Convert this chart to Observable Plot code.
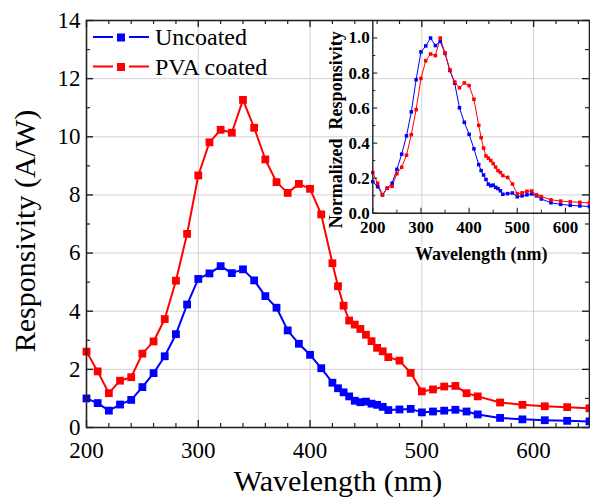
<!DOCTYPE html>
<html><head><meta charset="utf-8">
<script src="https://cdn.jsdelivr.net/npm/d3@7"></script>
<script src="https://cdn.jsdelivr.net/npm/@observablehq/plot@0.6"></script>
<style>
body{margin:0;background:#fff}
#wrap{position:relative;width:590px;height:500px}
#wrap svg{position:absolute;left:0;top:0}
#wrap svg, #wrap svg text{font-family:"Liberation Serif","Times New Roman",Times,"DejaVu Serif",serif !important}
</style>
</head><body><div id="wrap"></div>
<script>
const wavelength = [200,210,220,230,240,250,260,270,280,290,300,310,320,330,340,350,360,370,380,390,400,410,420,425,430,435,440,445,450,455,460,465,470,480,490,500,510,520,530,540,550,570,590,610,630,650];
const uncoated = [1.00,0.84,0.58,0.79,0.95,1.39,1.87,2.45,3.21,4.23,5.11,5.30,5.55,5.31,5.44,5.06,4.52,4.12,3.34,2.88,2.50,2.04,1.54,1.35,1.21,1.07,0.92,0.87,0.89,0.82,0.78,0.71,0.60,0.62,0.64,0.52,0.55,0.58,0.61,0.55,0.45,0.33,0.28,0.25,0.23,0.21];
const pvaCoated = [2.61,1.93,1.18,1.61,1.73,2.54,2.96,3.73,5.05,6.66,8.67,9.81,10.24,10.14,11.27,10.31,9.22,8.44,8.07,8.38,8.21,7.33,5.65,4.86,4.19,3.68,3.54,3.39,3.19,2.97,2.74,2.62,2.42,2.30,1.88,1.24,1.31,1.41,1.43,1.18,1.07,0.86,0.78,0.73,0.70,0.66];
const seriesNames = ["Uncoated", "PVA coated"];
const seriesColors = ["#0000ff", "#ff0000"];
const xMajorTicks = [200,300,400,500,600];
const xMinorTicks = [220,240,260,280,320,340,360,380,420,440,460,480,520,540,560,580,620,640];
const yMajorTicks = [0,2,4,6,8,10,12,14];
const yMinorTicks = [1,3,5,7,9,11,13];
const insetXTicks = [200,300,400,500,600];
const insetXMinor = [250,350,450,550];
const insetYTicks = [0,0.2,0.4,0.6,0.8,1.0];
const insetYMinor = [0.1,0.3,0.5,0.7,0.9];

const maxU = d3.max(uncoated), maxP = d3.max(pvaCoated);
const rows = wavelength.flatMap((w, i) => [
  {w, v: uncoated[i], n: uncoated[i] / maxU, s: seriesNames[0]},
  {w, v: pvaCoated[i], n: pvaCoated[i] / maxP, s: seriesNames[1]}
]);

const W = 590, H = 500;
const mL = 86, mR = 1, mT = 20, mB = 73;
const innerH = H - mT - mB, innerW = W - mL - mR;
const axisStroke = "#222";

const main = Plot.plot({
  width: W, height: H,
  marginLeft: mL, marginRight: mR, marginTop: mT, marginBottom: mB,
  style: {color: "black", background: "white"},
  x: {domain: [200, 650]},
  y: {domain: [0, 14]},
  color: {domain: seriesNames, range: seriesColors},
  marks: [
    Plot.gridX(xMajorTicks.slice(1), {stroke: "#d2d2d2", strokeOpacity: 1, strokeWidth: 1}),
    Plot.gridY(yMajorTicks.slice(1, -1), {stroke: "#d2d2d2", strokeOpacity: 1, strokeWidth: 1}),
    Plot.line(rows, {x: "w", y: "v", z: "s", stroke: "s", strokeWidth: 2}),
    Plot.dot(rows, {x: "w", y: "v", fill: "s", symbol: "square", r: 4.4, stroke: "none"}),
    Plot.frame({stroke: axisStroke, strokeWidth: 1.6}),
    Plot.tickX(xMajorTicks, {x: d => d, insetTop: innerH - 7, stroke: axisStroke, strokeWidth: 1.4}),
    Plot.tickX(xMajorTicks, {x: d => d, insetBottom: innerH - 7, stroke: axisStroke, strokeWidth: 1.4}),
    Plot.tickX(xMinorTicks, {x: d => d, insetTop: innerH - 4, stroke: axisStroke, strokeWidth: 1.2}),
    Plot.tickX(xMinorTicks, {x: d => d, insetBottom: innerH - 4, stroke: axisStroke, strokeWidth: 1.2}),
    Plot.tickY(yMajorTicks, {y: d => d, insetRight: innerW - 7, stroke: axisStroke, strokeWidth: 1.4}),
    Plot.tickY(yMajorTicks, {y: d => d, insetLeft: innerW - 7, stroke: axisStroke, strokeWidth: 1.4}),
    Plot.tickY(yMinorTicks, {y: d => d, insetRight: innerW - 4, stroke: axisStroke, strokeWidth: 1.2}),
    Plot.tickY(yMinorTicks, {y: d => d, insetLeft: innerW - 4, stroke: axisStroke, strokeWidth: 1.2}),
    Plot.axisX(xMajorTicks, {tickSize: 0, tickPadding: 14, fontSize: 23, label: null, tickFormat: d => String(d)}),
    Plot.axisY(yMajorTicks, {tickSize: 0, tickPadding: 6, fontSize: 23, label: null, tickFormat: d => String(d)}),
    Plot.text(["Wavelength (nm)"], {frameAnchor: "bottom", lineAnchor: "middle", textAnchor: "middle", dy: 54, fontSize: 30}),
    Plot.text(["Responsivity (A/W)"], {frameAnchor: "left", lineAnchor: "middle", textAnchor: "middle", dx: -61, dy: 7, rotate: -90, fontSize: 30})
  ]
});

// legend
const lg = d3.select(main).append("g").attr("font-size", 24).attr("text-anchor", "start");
seriesNames.forEach((name, i) => {
  const y = 37 + i * 29.5;
  const g = lg.append("g");
  g.append("line").attr("x1", 93).attr("x2", 113).attr("y1", y).attr("y2", y).attr("stroke", seriesColors[i]).attr("stroke-width", 2);
  g.append("line").attr("x1", 129).attr("x2", 149).attr("y1", y).attr("y2", y).attr("stroke", seriesColors[i]).attr("stroke-width", 2);
  g.append("rect").attr("x", 117).attr("y", y - 3.5).attr("width", 8).attr("height", 8).attr("fill", seriesColors[i]);
  g.append("text").attr("x", 155).attr("y", y + 8).attr("fill", "black").attr("text-anchor", "start").text(name);
});

// inset
const iL = 372.3, iR = 1, iT = 20, iB = H - 212.7;
const iInnerH = H - iT - iB, iInnerW = W - iL - iR;
const inset = Plot.plot({
  width: W, height: H,
  marginLeft: iL, marginRight: iR, marginTop: iT, marginBottom: iB,
  style: {color: "black", background: "transparent", fontWeight: "bold"},
  x: {domain: [200, 650]},
  y: {domain: [0, 1.1]},
  color: {domain: seriesNames, range: seriesColors},
  marks: [
    Plot.line(rows, {x: "w", y: "n", z: "s", stroke: "s", strokeWidth: 1}),
    Plot.dot(rows, {x: "w", y: "n", fill: "s", symbol: "square", r: 2, stroke: "none"}),
    Plot.ruleX([200], {stroke: axisStroke, strokeWidth: 1.4}),
    Plot.ruleY([0], {stroke: axisStroke, strokeWidth: 1.4}),
    Plot.tickX(insetXTicks, {x: d => d, insetTop: iInnerH - 5, stroke: axisStroke, strokeWidth: 1.1}),
    Plot.tickX(insetXMinor, {x: d => d, insetTop: iInnerH - 3, stroke: axisStroke, strokeWidth: 1}),
    Plot.tickY(insetYTicks, {y: d => d, insetRight: iInnerW - 5, stroke: axisStroke, strokeWidth: 1.1}),
    Plot.tickY(insetYMinor, {y: d => d, insetRight: iInnerW - 3, stroke: axisStroke, strokeWidth: 1}),
    Plot.axisX(insetXTicks, {tickSize: 0, tickPadding: 8, fontSize: 17, fontWeight: "bold", label: null, tickFormat: d => String(d)}),
    Plot.axisY(insetYTicks, {tickSize: 0, tickPadding: 3, fontSize: 17, fontWeight: "bold", label: null, tickFormat: d3.format(".1f")}),
    Plot.text(["Wavelength (nm)"], {frameAnchor: "bottom", lineAnchor: "middle", textAnchor: "middle", dy: 41, fontSize: 18, fontWeight: "bold"}),
    Plot.text(["Normalized\u00a0 Responsivity"], {frameAnchor: "left", lineAnchor: "middle", textAnchor: "middle", dx: -37, dy: 13, rotate: -90, fontSize: 18, fontWeight: "bold"})
  ]
});

const wrap = document.getElementById("wrap");
wrap.appendChild(main);
wrap.appendChild(inset);
</script>
</body></html>
